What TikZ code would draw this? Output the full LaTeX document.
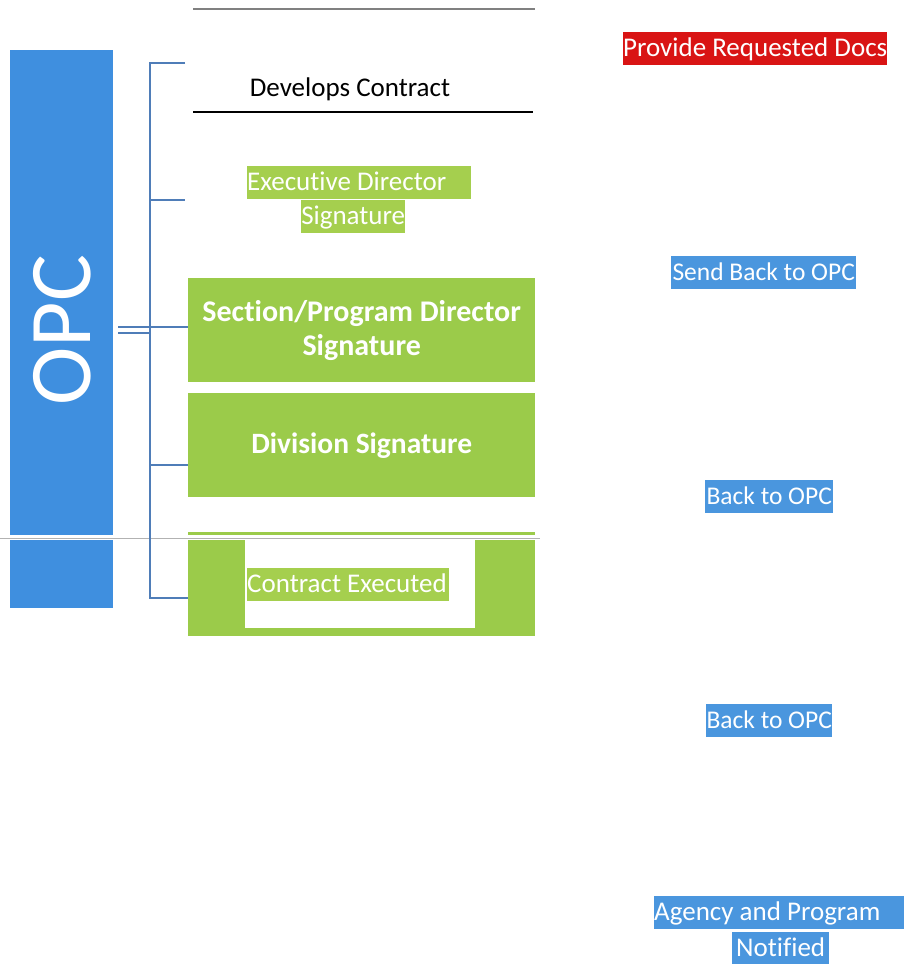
\documentclass[tikz,border=0pt]{standalone}
\usepackage{fontspec}
\setmainfont[Ligatures=NoCommon]{Carlito}
\definecolor{opcblue}{HTML}{3F8FDF}
\definecolor{hlblue}{HTML}{4A96DE}
\definecolor{hlred}{HTML}{D91414}
\definecolor{boxgreen}{HTML}{9BCB4A}
\definecolor{hlgreen}{HTML}{A5CF4E}
\definecolor{bracket}{HTML}{4F7DB8}
\begin{document}
\begin{tikzpicture}[x=1pt,y=-1pt,
  hl/.style={fill=#1,text=white,inner sep=0pt,anchor=north west,font=\fontsize{27}{31}\selectfont,text height=24pt,text depth=9pt},
  small/.style={font=\fontsize{25.5}{31}\selectfont},
  greenbox/.style={fill=boxgreen,draw=none,anchor=north west,inner sep=0pt,text=white,align=center,font=\fontsize{30}{33}\selectfont\bfseries},
  brk/.style={draw=bracket,line width=1.6pt}]
\useasboundingbox (0,0) rectangle (904,964);
\fill[white] (0,0) rectangle (904,964);
% top lines
\draw[gray,line width=1.5pt] (193,9) -- (535,9);
\draw[black,line width=1.5pt] (193,112) -- (533,112);
\node[anchor=center,font=\fontsize{27}{31}\selectfont] (dev) at (350,89) {Develops Contract};
% OPC bar
\node[fill=opcblue,minimum width=103pt,minimum height=558pt,inner sep=0pt,anchor=north west] (opc) at (10,50) {};
\node[rotate=90,text=white,font=\fontsize{88}{90}\selectfont] at (62,330) {OPC};
% green boxes
\node[greenbox,minimum width=347pt,minimum height=104pt] (sec) at (188,278) {\raisebox{-4pt}{\shortstack{Section/Program Director\\[5pt]Signature}}};
\node[greenbox,minimum width=347pt,minimum height=104pt,font=\fontsize{29.5}{33}\selectfont\bfseries] (div) at (188,393) {Division Signature};
\node[greenbox,minimum width=347pt,minimum height=104pt] (exe) at (188,532) {};
\fill[white] (245,540) rectangle (475,628);
\node[hl=hlgreen] (exetxt) at (247,568) {\makebox[202pt][l]{Contract Executed}};
% separator line
\fill[white] (0,535) rectangle (540,540);
\draw[gray!60,line width=0.8pt] (0,538) -- (540,538);
% executive director
\node[hl=hlgreen] (exec) at (247,166) {\makebox[224pt][l]{Executive Director}};
\node[hl=hlgreen] (exec2) at (301,200) {\makebox[104pt][c]{Signature}};
% bracket
\coordinate (b1) at (150,63);
\coordinate (b5) at (150,598);
\draw[brk] (185,63) -- (b1) -- (b5) -- (exe.west |- b5);
\draw[brk] (150,200) -- (185,200);
\draw[brk] (118,327) -- (sec.west |- 0,327);
\draw[brk] (118,333) -- (150,333);
\draw[brk] (150,465) -- (div.west |- 0,465);
% right column
\node[hl=hlred] (prov) at (623,32) {\makebox[264pt][c]{Provide Requested Docs}};
\node[hl=hlblue,small] (send) at (671,256) {\makebox[185pt][c]{Send Back to OPC}};
\node[hl=hlblue,small] (back1) at (705,480) {\makebox[128pt][c]{Back to OPC}};
\node[hl=hlblue,small] (back2) at (706,704) {\makebox[126pt][c]{Back to OPC}};
\node[hl=hlblue] (agency) at (654,896) {\makebox[250pt][l]{Agency and Program}};
\node[hl=hlblue] (notif) at (732,932) {\makebox[97pt][c]{Notified}};
\end{tikzpicture}
\end{document}
